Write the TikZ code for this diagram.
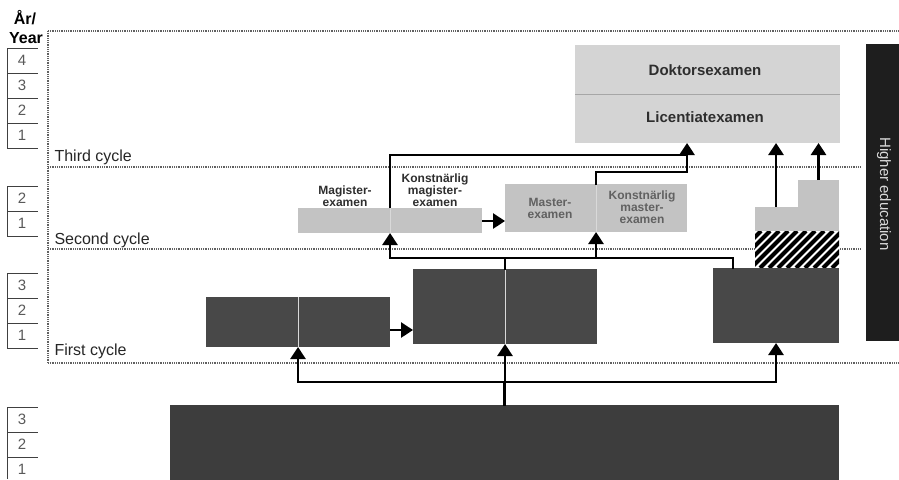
\documentclass[tikz,border=0pt]{standalone}
\usepackage{fontspec}
\setmainfont{Liberation Sans}
\usetikzlibrary{arrows.meta}
\definecolor{thirdgray}{HTML}{D4D4D4}
\definecolor{secondgray}{HTML}{C3C3C3}
\definecolor{firstgray}{HTML}{484848}
\definecolor{schoolgray}{HTML}{3D3D3D}
\definecolor{bargray}{HTML}{1E1E1E}
\definecolor{labelgray}{HTML}{2E2E2E}
\tikzset{
  edbox/.style={anchor=north west, inner sep=0pt, outer sep=0pt, draw=none},
  cycleline/.style={line width=2.2pt, draw=black!62, dash pattern=on 1pt off 0.8pt},
  yearline/.style={line width=0.9pt, draw=black!75},
  yearnum/.style={font=\fontsize{15}{15}\selectfont, text=black!65},
  cyclelabel/.style={anchor=base west, font=\fontsize{16}{16}\selectfont, text=black!85},
  examlabel/.style={font=\bfseries\fontsize{12}{12}\selectfont, align=center, text=labelgray},
  divider/.style={line width=1pt, draw=white!85!black},
  conn/.style={line width=2.8pt, draw=black, line cap=rect},
  connarrow/.style={line width=2.8pt, draw=black, -{Triangle[width=15pt,length=12pt]}},
}

\begin{document}
\begin{tikzpicture}[x=1pt, y=-1pt]
\useasboundingbox (0,0) rectangle (899,479);

% year column
\node[font=\bfseries\fontsize{16}{16}\selectfont] (arlabel) at (25,18) {År/};
\node[font=\bfseries\fontsize{16}{16}\selectfont] (yearlabel) at (26,38) {Year};
\foreach \y in {48,73,98,123,148,186,211,236,273,298,323,348,407,432,457}
  \draw[yearline] (7,\y) -- (38,\y);
\draw[yearline] (7,48) -- (7,148);
\draw[yearline] (7,186) -- (7,236);
\draw[yearline] (7,273) -- (7,348);
\draw[yearline] (7,407) -- (7,479);
\foreach \n/\y in {4/60.5,3/85.5,2/110.5,1/135.5}
  \node[yearnum] (third\n) at (22,\y) {\n};
\foreach \n/\y in {2/198.5,1/223.5}
  \node[yearnum] (second\n) at (22,\y) {\n};
\foreach \n/\y in {3/285.5,2/310.5,1/335.5}
  \node[yearnum] (first\n) at (22,\y) {\n};
\foreach \n/\y in {3/419.5,2/444.5,1/469}
  \node[yearnum] (school\n) at (22,\y) {\n};

% cycle frame
\draw[cycleline] (48,31) -- (899,31);
\draw[cycleline] (48,31) -- (48,363);
\draw[cycleline] (48,167) -- (860,167);
\draw[cycleline] (48,249) -- (860,249);
\draw[cycleline] (48,363) -- (899,363);
\node[cyclelabel] (thirdcycle) at (51,161) {Third cycle};
\node[cyclelabel] (secondcycle) at (51,244) {Second cycle};
\node[cyclelabel] (firstcycle) at (51,355) {First cycle};

% higher education bar
\node[edbox, fill=bargray, minimum width=40pt, minimum height=297pt] (bar) at (866,44) {};
\node[rotate=-90, font=\fontsize{15}{15}\selectfont, text=white!85!black] (bartext) at (884,194) {Higher education};

% third cycle
\node[edbox, fill=thirdgray, minimum width=265pt, minimum height=98pt] (lic) at (575,45) {};
\draw[line width=1pt, draw=black!35] (lic.west) -- (lic.east);
\node[examlabel, font=\bfseries\fontsize{15}{15}\selectfont] (doktext) at (705,70) {Doktorsexamen};
\node[examlabel, font=\bfseries\fontsize{15}{15}\selectfont] (lictext) at (705,117) {Licentiatexamen};

% second cycle
\node[edbox, fill=secondgray, minimum width=184pt, minimum height=25pt] (mag) at (298,208) {};
\draw[divider] (mag.north) -- (mag.south);
\node[examlabel] (magtext) at (345,196) {Magister-\\examen};
\node[examlabel] (kmagtext) at (435,190) {Konstnärlig\\magister-\\examen};
\node[edbox, fill=secondgray, minimum width=182pt, minimum height=48pt] (mas) at (505,184) {};
\draw[divider] (mas.north) -- (mas.south);
\node[examlabel, text=black!62] (mastext) at (550,208) {Master-\\examen};
\node[examlabel, text=black!62] (kmastext) at (642,207) {Konstnärlig\\master-\\examen};
\node[edbox, fill=secondgray, minimum width=84pt, minimum height=24pt] (rlow) at (755,207) {};
\node[edbox, fill=secondgray, minimum width=41pt, minimum height=27pt] (rtop) at (798,180) {};
\node[edbox, fill=white, minimum width=84pt, minimum height=37pt] (hatch) at (755,231) {};
\begin{scope}
  \clip (hatch.north west) rectangle (hatch.south east);
  \foreach \i in {0,...,14}
    \draw[line width=4pt] ({715+\i*9},268) -- ++(37,-37);
\end{scope}

% first cycle
\node[edbox, fill=firstgray, minimum width=184pt, minimum height=50pt] (fa) at (206,297) {};
\draw[divider] (fa.north) -- (fa.south);
\node[edbox, fill=firstgray, minimum width=184pt, minimum height=75pt] (fb) at (413,269) {};
\draw[divider] (fb.north) -- (fb.south);
\node[edbox, fill=firstgray, minimum width=126pt, minimum height=75pt] (fc) at (713,268) {};

% upper secondary
\node[edbox, fill=schoolgray, minimum width=669pt, minimum height=80pt] (school) at (170,405) {};

% connectors
\coordinate (raillow) at (0,382);
\coordinate (railmid) at (0,258);
\coordinate (railtop) at (0,155);
\coordinate (railmas) at (0,172);
\coordinate (fcjoin) at (733,268);
\coordinate (licin) at (687,143);

\draw[conn] (school.north) -- (school.north |- raillow);
\draw[conn] (fa.south |- raillow) -- (fc.south |- raillow);
\draw[connarrow] (fa.south |- raillow) -- (fa.south);
\draw[connarrow] (fb.south |- raillow) -- (fb.south);
\draw[connarrow] (fc.south |- raillow) -- (fc.south);
\draw[connarrow] (fa.east |- 0,330) -- (fb.west |- 0,330);

\draw[conn] (fb.north) -- (fb.north |- railmid);
\draw[conn] (mag.south |- railmid) -| (fcjoin);
\draw[connarrow] (mag.south |- railmid) -- (mag.south);
\draw[connarrow] (mas.south |- railmid) -- (mas.south);
\draw[connarrow] (mag.east |- 0,221) -- (mas.west |- 0,221);

\draw[connarrow] (mag.north) |- (licin |- railtop) -- (licin);
\draw[conn] (mas.north) |- (licin |- railmas) -- (licin |- railtop);
\draw[connarrow] (rlow.north -| fc.south) -- (lic.south -| fc.south);
\draw[connarrow] (rtop.north) -- (lic.south -| rtop.north);
\end{tikzpicture}
\end{document}
